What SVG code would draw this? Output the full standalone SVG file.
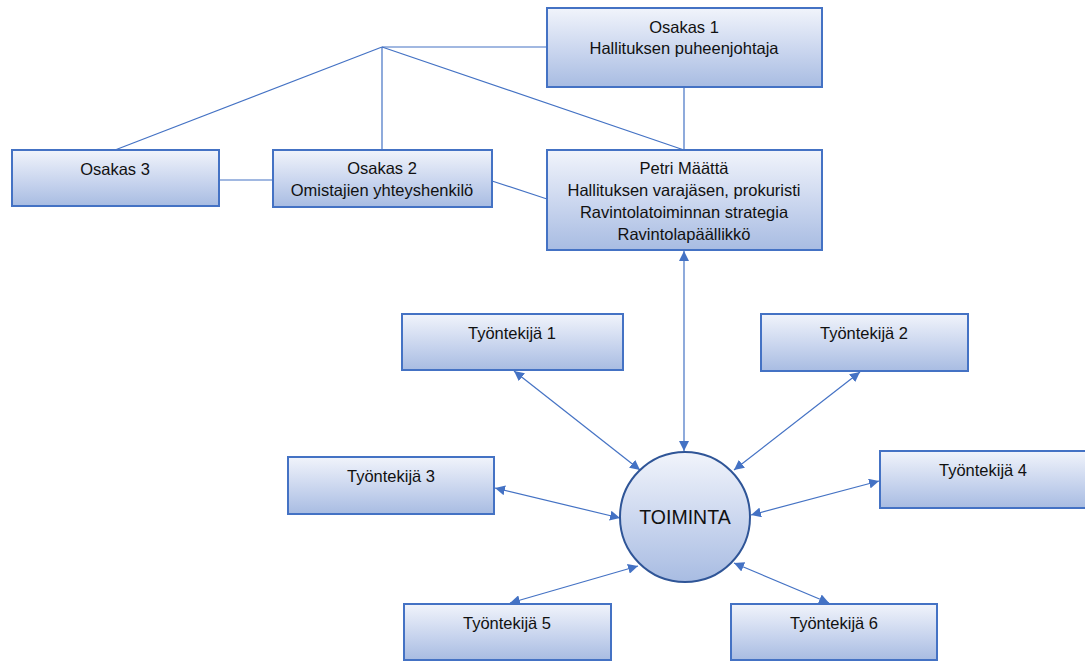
<svg xmlns="http://www.w3.org/2000/svg" width="1085" height="662" viewBox="0 0 1085 662">
<style>
.box{fill:url(#g);stroke:#4472c4;stroke-width:2}
.c{fill:url(#g);stroke:#2f5597;stroke-width:2}
.t{font-family:"Liberation Sans",Arial,sans-serif;font-size:16.5px;fill:#111;text-anchor:middle}
.ln{stroke:#4472c4;stroke-width:1.2;fill:none}
.ar{stroke:#4472c4;stroke-width:1.2;fill:none;marker-start:url(#a);marker-end:url(#a)}
</style>
<defs>
<linearGradient id="g" x1="0" y1="0" x2="0" y2="1">
<stop offset="0" stop-color="#f1f4fb"/>
<stop offset="0.55" stop-color="#c9d5ee"/>
<stop offset="1" stop-color="#a8bce2"/>
</linearGradient>
<marker id="a" viewBox="0 0 10 10" refX="10" refY="5" markerWidth="10" markerHeight="10" markerUnits="userSpaceOnUse" orient="auto-start-reverse">
<path d="M0,0 L10,5 L0,10 z" fill="#4472c4"/>
</marker>
</defs>
<g id="connectors">
<line class="ln" x1="382" y1="47" x2="115" y2="150"/>
<line class="ln" x1="382" y1="47" x2="382" y2="150"/>
<line class="ln" x1="382" y1="47" x2="547" y2="47"/>
<line class="ln" x1="382" y1="47" x2="684" y2="150"/>
<line class="ln" x1="684" y1="87" x2="684" y2="150"/>
<line class="ln" x1="219" y1="180" x2="273" y2="180"/>
<line class="ln" x1="492" y1="181" x2="547" y2="199"/>
<line class="ar" x1="684" y1="251" x2="684" y2="451"/>
<line class="ar" x1="514" y1="371" x2="640" y2="470"/>
<line class="ar" x1="860" y1="372" x2="734" y2="470"/>
<line class="ar" x1="495" y1="488" x2="620" y2="518"/>
<line class="ar" x1="879" y1="481" x2="751" y2="515"/>
<line class="ar" x1="510" y1="603" x2="638" y2="566"/>
<line class="ar" x1="829" y1="603" x2="734" y2="563"/>
</g>
<g id="osakas1"><rect class="box" x="547" y="8" width="275" height="79"/><text class="t" x="684" y="33">Osakas 1</text><text class="t" x="684" y="54">Hallituksen puheenjohtaja</text></g>
<g id="petri"><rect class="box" x="547" y="150" width="275" height="100"/><text class="t" x="684" y="174">Petri Määttä</text><text class="t" x="684" y="196">Hallituksen varajäsen, prokuristi</text><text class="t" x="684" y="218">Ravintolatoiminnan strategia</text><text class="t" x="684" y="240">Ravintolapäällikkö</text></g>
<g id="osakas3"><rect class="box" x="12" y="150" width="207" height="56"/><text class="t" x="115" y="175">Osakas 3</text></g>
<g id="osakas2"><rect class="box" x="273" y="150" width="219" height="57"/><text class="t" x="382" y="174">Osakas 2</text><text class="t" x="382" y="196">Omistajien yhteyshenkilö</text></g>
<g id="t1"><rect class="box" x="402" y="314" width="221" height="56"/><text class="t" x="512" y="339">Työntekijä 1</text></g>
<g id="t2"><rect class="box" x="761" y="314" width="207" height="57"/><text class="t" x="864" y="339">Työntekijä 2</text></g>
<g id="t3"><rect class="box" x="288" y="457" width="206" height="57"/><text class="t" x="391" y="482">Työntekijä 3</text></g>
<g id="t4"><rect class="box" x="880" y="451" width="206" height="57"/><text class="t" x="983" y="476">Työntekijä 4</text></g>
<g id="t5"><rect class="box" x="404" y="604" width="207" height="56"/><text class="t" x="507" y="629">Työntekijä 5</text></g>
<g id="t6"><rect class="box" x="731" y="604" width="206" height="56"/><text class="t" x="834" y="629">Työntekijä 6</text></g>
<g id="toiminta"><circle class="c" cx="685" cy="517" r="65"/><text class="t" x="685" y="524" style="font-size:19.5px">TOIMINTA</text></g>
</svg>
